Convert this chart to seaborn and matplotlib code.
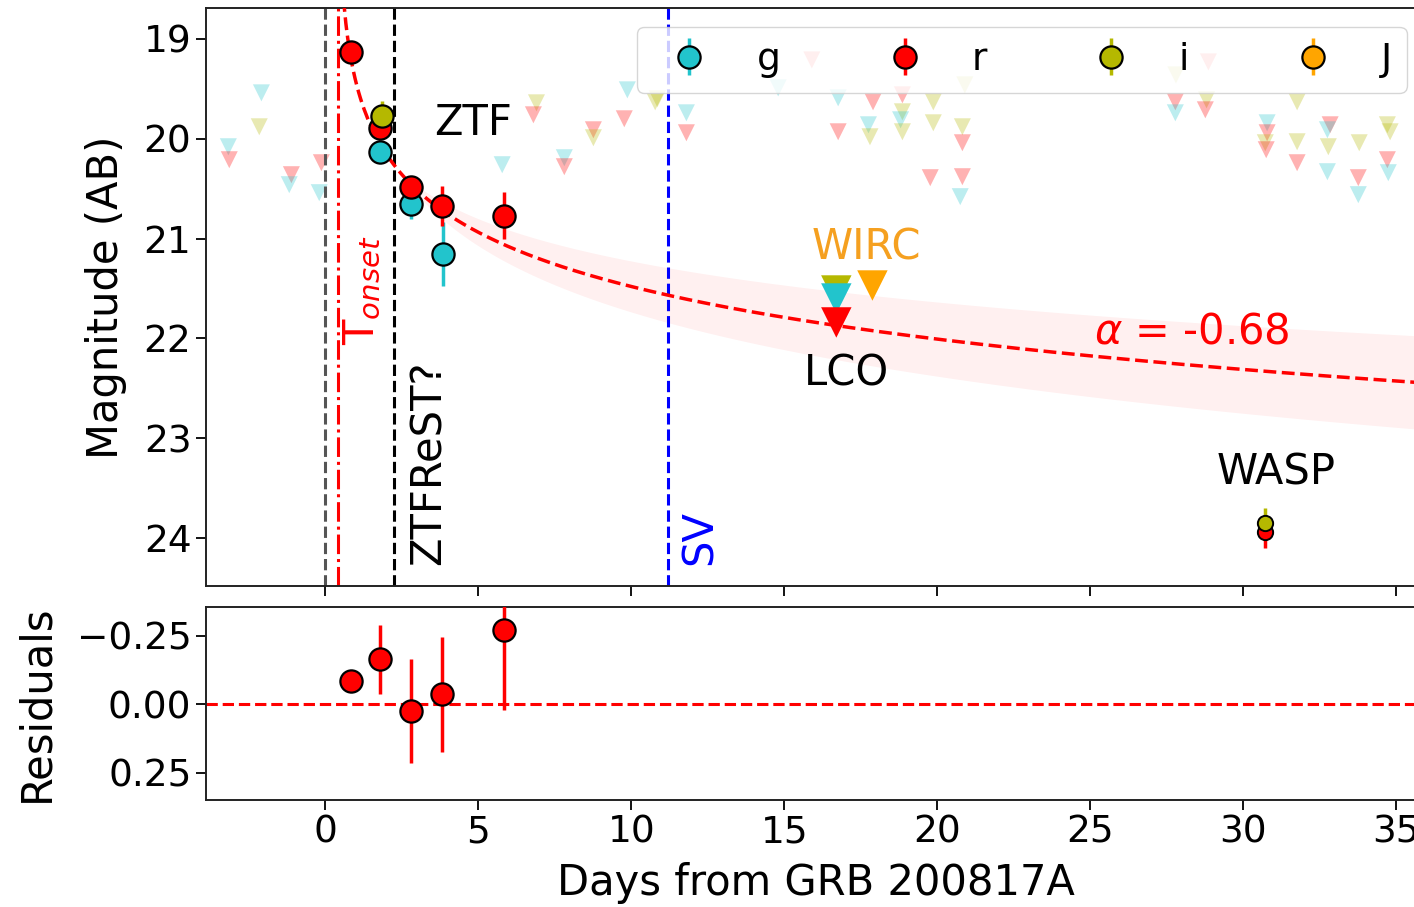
import numpy as np
import pandas as pd
import matplotlib.pyplot as plt
import seaborn as sns

# detections (days from GRB, AB mag, error)
g_t = [1.8, 2.8, 3.85]
g_mag = [20.13, 20.65, 21.15]
g_err = [0.05, 0.15, 0.32]

r_t = [0.85, 1.8, 2.8, 3.8, 5.85]
r_mag = [19.13, 19.89, 20.48, 20.67, 20.77]
r_err = [0.06, 0.08, 0.09, 0.2, 0.235]

i_t = [1.85]
i_mag = [19.77]
i_err = [0.15]

# WASP points
wasp_t = [30.7, 30.7]
wasp_mag = [23.94, 23.85]
wasp_err = [0.16, 0.15]
wasp_band = ['r', 'i']

# residuals of r band to the power law
res_t = [0.85, 1.8, 2.8, 3.8, 5.85]
res_val = [-0.084, -0.164, 0.026, -0.036, -0.27]
res_err = [0.02, 0.125, 0.19, 0.21, 0.29]

# faint upper limits (ZTF)
ul_t = [-2.09, -2.16, -3.17, -3.14, -1.11, -1.18, -0.13, -0.2,
        5.78, 6.9, 6.8, 7.81, 7.81, 8.76, 8.76, 9.87, 9.77, 10.78, 10.85,
        11.8, 11.8, 14.8, 15.9, 16.76, 16.76, 17.9, 17.75, 17.8,
        18.86, 18.86, 18.8, 18.86, 19.87, 19.87, 19.77, 20.9, 20.82, 20.82, 20.82, 20.75,
        27.8, 27.78, 27.78, 28.8, 28.76, 28.86,
        30.78, 30.78, 30.72, 30.75, 31.76, 31.76, 31.76,
        32.84, 32.75, 32.78, 32.75, 33.79, 33.76, 33.76,
        34.71, 34.8, 34.71, 34.74]
ul_mag = [19.54, 19.88, 20.08, 20.21, 20.36, 20.46, 20.24, 20.54,
          20.26, 19.64, 19.76, 20.19, 20.28, 19.91, 19.99, 19.51, 19.80, 19.63, 19.60,
          19.74, 19.94, 19.49, 19.21, 19.59, 19.93, 19.63, 19.86, 19.98,
          19.56, 19.73, 19.81, 19.93, 19.63, 19.84, 20.39, 19.46, 19.88, 20.04, 20.38, 20.58,
          19.36, 19.63, 19.74, 19.61, 19.71, 19.23,
          19.84, 19.94, 20.04, 20.11, 19.63, 20.03, 20.24,
          19.86, 19.91, 20.08, 20.33, 20.04, 20.39, 20.56,
          19.86, 19.93, 20.21, 20.34]
ul_band = ['g', 'i', 'g', 'r', 'r', 'g', 'r', 'g',
           'g', 'i', 'r', 'g', 'r', 'r', 'i', 'g', 'r', 'i', 'i',
           'g', 'r', 'g', 'r', 'g', 'r', 'r', 'g', 'i',
           'r', 'i', 'g', 'i', 'i', 'i', 'r', 'i', 'i', 'r', 'r', 'g',
           'i', 'r', 'g', 'i', 'r', 'r',
           'g', 'r', 'i', 'r', 'i', 'i', 'r',
           'r', 'g', 'i', 'g', 'i', 'r', 'g',
           'i', 'i', 'r', 'g']

# deep upper limits (LCO, WIRC)
deep_t = [16.7, 16.7, 16.7, 17.88]
deep_mag = [21.52, 21.6, 21.84, 21.47]
deep_band = ['i', 'g', 'r', 'J']

# power law fit
alpha = -0.68
alpha_err = 0.15
t_onset = 0.4
m0 = 19.81       # mag at 1 day after onset
t_pivot = 2.0

colors = {'g': '#22c4cc', 'r': '#ff0000', 'i': '#b5b800', 'J': '#ffa500'}

sns.set_style('ticks', {'text.color': 'black', 'axes.labelcolor': 'black',
                        'xtick.color': 'black', 'ytick.color': 'black',
                        'axes.edgecolor': '#222222'})
plt.rcParams['font.family'] = ['DejaVu Sans']

fig = plt.figure(figsize=(14.14, 9.07), dpi=100)
ax1 = fig.add_axes([0.1457, 0.3539, 0.8623, 0.6373])
ax2 = fig.add_axes([0.1457, 0.118, 0.8623, 0.2128], sharex=ax1)

# upper limits
ul = pd.DataFrame({'t': ul_t, 'mag': ul_mag, 'band': ul_band})
sns.scatterplot(data=ul, x='t', y='mag', hue='band', palette=colors, marker='v',
                s=150, alpha=0.3, linewidth=0, legend=False, ax=ax1, zorder=2)
deep = pd.DataFrame({'t': deep_t, 'mag': deep_mag, 'band': deep_band})
sns.scatterplot(data=deep, x='t', y='mag', hue='band', palette=colors, marker='v',
                s=480, linewidth=0, legend=False, ax=ax1, zorder=4)

# model and band
tt = np.linspace(t_onset + 0.15, 36.5, 600)
dt = tt - t_onset
model = m0 - 2.5 * alpha * np.log10(dt)
spread = 2.5 * alpha_err * np.abs(np.log10(dt / t_pivot))
sns.lineplot(x=tt, y=model, color='r', ls='--', lw=2.5, ax=ax1, zorder=3)
mask = dt > t_pivot
ax1.fill_between(tt[mask], (model - spread)[mask], (model + spread)[mask],
                 color='r', alpha=0.06, lw=0, zorder=1)

# vertical lines
ax1.axvline(0, color='#555555', ls='--', lw=2.2)
ax1.axvline(t_onset, color='r', ls='-.', lw=2.2)
ax1.axvline(2.25, color='k', ls='--', lw=2.2)
ax1.axvline(11.2, color='b', ls='--', lw=2.2)

# detections
eb = dict(fmt='o', ms=16, mec='k', mew=1.6, elinewidth=2.5, capsize=0, zorder=5)
h_g = ax1.errorbar(g_t, g_mag, yerr=g_err, mfc=colors['g'], ecolor=colors['g'], **eb)
h_r = ax1.errorbar(r_t, r_mag, yerr=r_err, mfc=colors['r'], ecolor=colors['r'], **eb)
h_i = ax1.errorbar(i_t, i_mag, yerr=i_err, mfc=colors['i'], ecolor=colors['i'], **eb)
h_J = ax1.errorbar([np.nan], [np.nan], yerr=[0.1], mfc=colors['J'], ecolor=colors['J'], **eb)
for t, m, e, b in zip(wasp_t, wasp_mag, wasp_err, wasp_band):
    ax1.errorbar([t], [m], yerr=[e], fmt='o', ms=11, mec='k', mew=1.4,
                 mfc=colors[b], ecolor=colors[b], elinewidth=2.5, zorder=5)

# labels
fs = 30
ax1.text(4.84, 19.84, 'ZTF', fontsize=fs, ha='center', va='center')
ax1.text(17.68, 21.09, 'WIRC', fontsize=fs, ha='center', va='center', color='#f5a020')
ax1.text(17.03, 22.35, 'LCO', fontsize=fs, ha='center', va='center')
ax1.text(31.08, 23.34, 'WASP', fontsize=fs, ha='center', va='center')
ax1.text(28.33, 21.93, r'$\alpha$ = -0.68', fontsize=fs, ha='center', va='center', color='r')
ax1.text(1.2, 22.07, r'T$_{onset}$', fontsize=fs, rotation=90, ha='center', va='bottom', color='r')
ax1.text(3.37, 24.27, 'ZTFReST?', fontsize=fs, rotation=90, ha='center', va='bottom')
ax1.text(12.25, 24.27, 'SV', fontsize=fs, rotation=90, ha='center', va='bottom', color='b')

ax1.legend([h_g, h_r, h_i, h_J], ['g', 'r', 'i', 'J'], loc='upper right', ncol=4,
           fontsize=27, framealpha=0.8, columnspacing=2.3)

ax1.set_xlim(-3.9, 35.95)
ax1.set_ylim(24.48, 18.69)
ax1.set_yticks([19, 20, 21, 22, 23, 24])
ax1.set_ylabel('Magnitude (AB)', fontsize=fs, labelpad=12)
ax1.set_xlabel('')
ax1.tick_params(labelbottom=False)

# residuals
ax2.errorbar(res_t, res_val, yerr=res_err, fmt='o', ms=16, mfc='r', mec='k', mew=1.6,
             ecolor='r', elinewidth=2.5, zorder=5)
ax2.axhline(0, color='r', ls='--', lw=2.2)
ax2.set_ylim(0.35, -0.356)
ax2.set_yticks([-0.25, 0.0, 0.25])
ax2.set_ylabel('Residuals', fontsize=fs, labelpad=14)
ax2.set_xlabel('Days from GRB 200817A', fontsize=fs, labelpad=8)
ax2.set_xticks([0, 5, 10, 15, 20, 25, 30, 35])

for ax in (ax1, ax2):
    ax.tick_params(labelsize=27, length=7, width=1.3, direction='out')
    for s in ax.spines.values():
        s.set_linewidth(1.4)

fig.savefig('out.png', dpi=100)
